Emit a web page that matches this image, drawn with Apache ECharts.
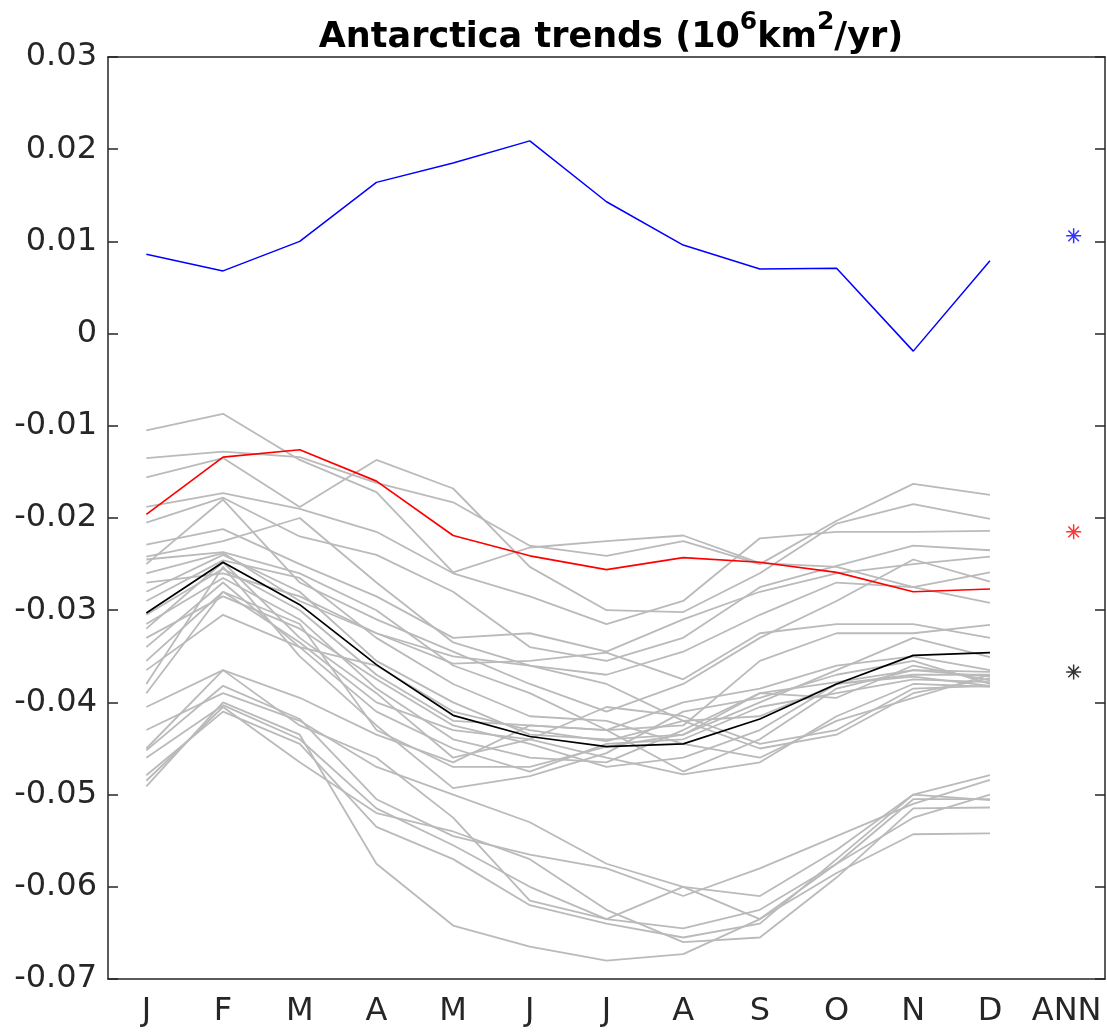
<!DOCTYPE html>
<html>
<head>
<meta charset="utf-8">
<title>Antarctica trends</title>
<script src="https://cdn.jsdelivr.net/npm/echarts@6/dist/echarts.min.js"></script>
<style>
	html, body { margin: 0; padding: 0; background: #fff; }
	#chart { width: 1107px; height: 1033px; }
</style>
</head>
<body>
<div id="chart"></div>
<script>
// 横轴类目
var months = ['J','F','M','A','M','J','J','A','S','O','N','D','ANN'];
// 三条主线 (J..D)
var blueTrend = [0.0086,0.0068,0.0100,0.0164,0.0185,0.0209,0.0143,0.0096,0.0070,0.0071,-0.0019,0.0079];
var redTrend = [-0.0196,-0.0134,-0.0126,-0.0160,-0.0219,-0.0241,-0.0256,-0.0243,-0.0248,-0.0259,-0.0280,-0.0277];
var blackTrend = [-0.0303,-0.0248,-0.0294,-0.0359,-0.0414,-0.0437,-0.0448,-0.0445,-0.0418,-0.0380,-0.0349,-0.0346];
// ANN 处的星号
var annBlue = 0.0106;
var annRed = -0.0215;
var annBlack = -0.0367;
// 灰色的各模式
var modelTrends = [
	[-0.0105,-0.0087,-0.0137,-0.0172,-0.0259,-0.0232,-0.0225,-0.0219,-0.0249,-0.0253,-0.0275,-0.0292],
	[-0.0135,-0.0128,-0.0134,-0.0162,-0.0183,-0.0230,-0.0241,-0.0225,-0.0250,-0.0203,-0.0163,-0.0175],
	[-0.0156,-0.0135,-0.0188,-0.0137,-0.0168,-0.0253,-0.0300,-0.0302,-0.0260,-0.0206,-0.0185,-0.0201],
	[-0.0188,-0.0173,-0.0190,-0.0215,-0.0260,-0.0285,-0.0315,-0.0290,-0.0222,-0.0215,-0.0215,-0.0214],
	[-0.0205,-0.0178,-0.0220,-0.0240,-0.0280,-0.0340,-0.0355,-0.0330,-0.0275,-0.0252,-0.0230,-0.0235],
	[-0.0229,-0.0212,-0.0250,-0.0285,-0.0330,-0.0325,-0.0345,-0.0310,-0.0280,-0.0260,-0.0250,-0.0242],
	[-0.0242,-0.0225,-0.0200,-0.0270,-0.0335,-0.0360,-0.0370,-0.0345,-0.0305,-0.0270,-0.0275,-0.0259],
	[-0.0250,-0.0180,-0.0270,-0.0310,-0.0345,-0.0380,-0.0410,-0.0380,-0.0330,-0.0290,-0.0245,-0.0269],
	[-0.0245,-0.0237,-0.0260,-0.0300,-0.0360,-0.0390,-0.0430,-0.0425,-0.0355,-0.0325,-0.0325,-0.0316],
	[-0.0270,-0.0260,-0.0285,-0.0325,-0.0358,-0.0355,-0.0346,-0.0375,-0.0325,-0.0315,-0.0315,-0.0330],
	[-0.0280,-0.0240,-0.0280,-0.0355,-0.0400,-0.0435,-0.0440,-0.0435,-0.0400,-0.0365,-0.0330,-0.0351],
	[-0.0305,-0.0255,-0.0300,-0.0370,-0.0420,-0.0425,-0.0430,-0.0475,-0.0440,-0.0385,-0.0365,-0.0367],
	[-0.0315,-0.0265,-0.0310,-0.0385,-0.0440,-0.0460,-0.0465,-0.0430,-0.0390,-0.0395,-0.0360,-0.0376],
	[-0.0320,-0.0248,-0.0330,-0.0390,-0.0460,-0.0440,-0.0405,-0.0415,-0.0445,-0.0430,-0.0385,-0.0382],
	[-0.0330,-0.0285,-0.0320,-0.0375,-0.0425,-0.0445,-0.0470,-0.0460,-0.0430,-0.0380,-0.0370,-0.0370],
	[-0.0340,-0.0270,-0.0340,-0.0410,-0.0450,-0.0475,-0.0445,-0.0440,-0.0405,-0.0390,-0.0375,-0.0378],
	[-0.0355,-0.0280,-0.0335,-0.0400,-0.0430,-0.0440,-0.0460,-0.0478,-0.0465,-0.0415,-0.0380,-0.0383],
	[-0.0365,-0.0305,-0.0340,-0.0360,-0.0410,-0.0430,-0.0442,-0.0420,-0.0450,-0.0435,-0.0390,-0.0374],
	[-0.0380,-0.0253,-0.0350,-0.0425,-0.0493,-0.0480,-0.0455,-0.0410,-0.0395,-0.0370,-0.0355,-0.0380],
	[-0.0390,-0.0280,-0.0315,-0.0430,-0.0470,-0.0470,-0.0448,-0.0435,-0.0390,-0.0378,-0.0365,-0.0372],
	[-0.0405,-0.0365,-0.0395,-0.0435,-0.0465,-0.0425,-0.0430,-0.0400,-0.0385,-0.0360,-0.0350,-0.0365],
	[-0.0260,-0.0238,-0.0290,-0.0325,-0.0350,-0.0360,-0.0380,-0.0420,-0.0415,-0.0380,-0.0372,-0.0382],
	[-0.0290,-0.0246,-0.0265,-0.0330,-0.0380,-0.0415,-0.0420,-0.0445,-0.0460,-0.0420,-0.0395,-0.0370],
	[-0.0430,-0.0390,-0.0420,-0.0470,-0.0500,-0.0530,-0.0575,-0.0600,-0.0610,-0.0560,-0.0500,-0.0479],
	[-0.0452,-0.0382,-0.0418,-0.0505,-0.0545,-0.0565,-0.0580,-0.0610,-0.0580,-0.0545,-0.0510,-0.0484],
	[-0.0460,-0.0403,-0.0440,-0.0515,-0.0555,-0.0600,-0.0635,-0.0645,-0.0625,-0.0575,-0.0525,-0.0500],
	[-0.0479,-0.0410,-0.0445,-0.0535,-0.0570,-0.0620,-0.0640,-0.0655,-0.0640,-0.0570,-0.0500,-0.0506],
	[-0.0485,-0.0405,-0.0465,-0.0520,-0.0540,-0.0570,-0.0625,-0.0660,-0.0655,-0.0590,-0.0515,-0.0514],
	[-0.0491,-0.0400,-0.0435,-0.0575,-0.0642,-0.0665,-0.0680,-0.0673,-0.0635,-0.0585,-0.0543,-0.0542],
	[-0.0450,-0.0365,-0.0425,-0.0460,-0.0525,-0.0615,-0.0635,-0.0600,-0.0635,-0.0575,-0.0505,-0.0505]
];

// 星号符号 (横竖加两条斜线)
var starPath = 'path://M0 9L20 9L20 11L0 11Z'
	+ 'M3.6 2.2L17.8 16.4L16.4 17.8L2.2 3.6Z'
	+ 'M16.4 2.2L17.8 3.6L3.6 17.8L2.2 16.4Z'
	+ 'M9 0L11 0L11 20L9 20Z';

var axisColor = '#262626';
var fontName = '"DejaVu Sans", sans-serif';

var series = [];
// 先画灰线
modelTrends.map(function(item){
	series.push({
		type : 'line',
		data : item,
		symbol : 'none',
		silent : true,
		lineStyle : { color : '#bababa', width : 1.8 }
	});
});
series.push({ type : 'line', data : blueTrend, symbol : 'none', lineStyle : { color : '#0000ff', width : 1.5 } });
series.push({ type : 'line', data : redTrend, symbol : 'none', lineStyle : { color : '#ff0000', width : 1.7 } });
series.push({ type : 'line', data : blackTrend, symbol : 'none', lineStyle : { color : '#000000', width : 1.7 } });
series.push({
	type : 'scatter',
	symbol : starPath,
	symbolSize : 15,
	symbolOffset : [7, 0],
	data : [
		{ value : ['ANN', annBlue], itemStyle : { color : '#0000ff' } },
		{ value : ['ANN', annRed], itemStyle : { color : '#ff0000' } },
		{ value : ['ANN', annBlack], itemStyle : { color : '#000000' } }
	]
});

var myChart = echarts.init(document.getElementById('chart'), null, { renderer : 'canvas' });
var option = {
	animation : false,
	backgroundColor : '#ffffff',
	title : {
		text : '{t|Antarctica trends (10}{s|6}{t|km}{s|2}{t|/yr)}',
		left : 606,
		textAlign : 'center',
		top : 5,
		textStyle : {
			rich : {
				t : { fontFamily : fontName, fontWeight : 'bold', fontSize : 35, color : '#000', verticalAlign : 'bottom', lineHeight : 45 },
				s : { fontFamily : fontName, fontWeight : 'bold', fontSize : 25, color : '#000', verticalAlign : 'top', lineHeight : 45, padding : [0, 0, 18, 0] }
			}
		}
	},
	grid : { left : 108, right : 2, top : 57, bottom : 54 },
	xAxis : [{
		type : 'category',
		data : months,
		boundaryGap : true,
		axisLine : { onZero : false, lineStyle : { color : axisColor, width : 1.5 } },
		axisTick : { inside : true, alignWithLabel : true, length : 10, lineStyle : { color : axisColor, width : 1.5 } },
		axisLabel : { color : axisColor, fontFamily : fontName, fontSize : 32, margin : 17, interval : 0 },
		splitLine : { show : false }
	},{
		type : 'category',
		data : months,
		position : 'top',
		boundaryGap : true,
		axisLine : { onZero : false, lineStyle : { color : axisColor, width : 1.5 } },
		axisTick : { inside : true, alignWithLabel : true, length : 10, lineStyle : { color : axisColor, width : 1.5 } },
		axisLabel : { show : false },
		splitLine : { show : false }
	}],
	yAxis : [{
		type : 'value',
		min : -0.07,
		max : 0.03,
		interval : 0.01,
		axisLine : { show : true, onZero : false, lineStyle : { color : axisColor, width : 1.5 } },
		axisTick : { show : true, inside : true, length : 10, lineStyle : { color : axisColor, width : 1.5 } },
		axisLabel : { color : axisColor, fontFamily : fontName, fontSize : 32, margin : 11,
			formatter : function(v){ return Math.abs(v) < 1e-9 ? '0' : (+v.toFixed(2)).toString(); } },
		splitLine : { show : false }
	},{
		type : 'value',
		position : 'right',
		min : -0.07,
		max : 0.03,
		interval : 0.01,
		axisLine : { show : true, onZero : false, lineStyle : { color : axisColor, width : 1.5 } },
		axisTick : { show : true, inside : true, length : 10, lineStyle : { color : axisColor, width : 1.5 } },
		axisLabel : { show : false },
		splitLine : { show : false }
	}],
	series : series
};
myChart.setOption(option);
</script>
</body>
</html>
